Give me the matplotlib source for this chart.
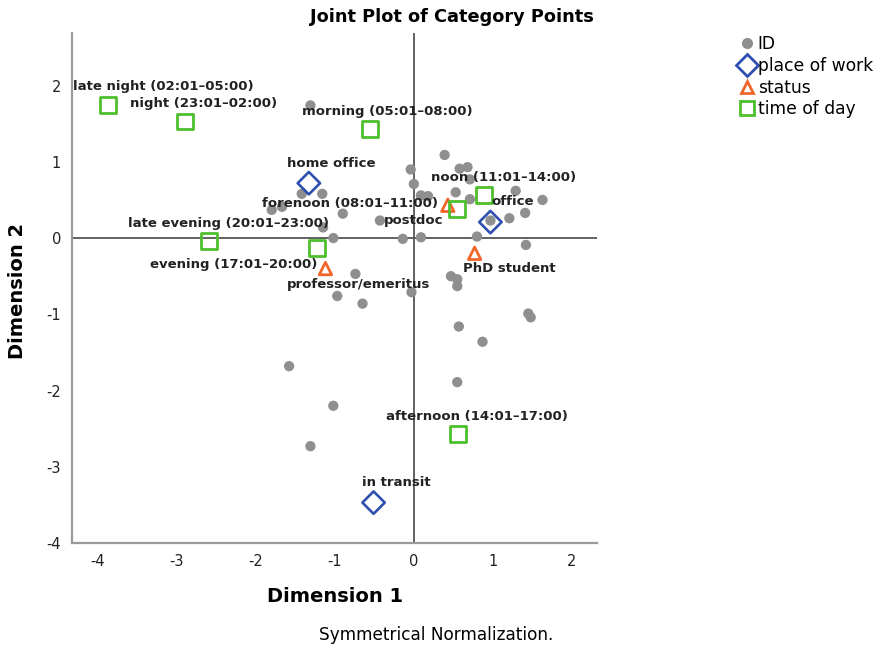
import matplotlib
matplotlib.use("Agg")
import matplotlib.pyplot as plt
from matplotlib.lines import Line2D

plt.rcParams["axes.unicode_minus"] = False

# ---- data ----
id_x = [-1.31, 0.39, -0.04, 0.58, 0.68, 0.71, 0.00, 0.53, 0.09, 1.29, 1.63, 1.21, 1.41,
        0.97, 0.80, 1.42, 0.09, -0.14, -0.43, 0.71, -1.42, -1.16, -1.80, -1.67, -0.90,
        -1.15, -1.02, -0.74, 0.47, 0.55, 0.55, -0.03, -0.97, -0.65, 1.45, 1.48, 0.57,
        0.87, -1.58, 0.55, -1.02, -1.31, 0.18]
id_y = [1.74, 1.09, 0.90, 0.91, 0.93, 0.77, 0.71, 0.60, 0.56, 0.62, 0.50, 0.26, 0.33,
        0.23, 0.02, -0.09, 0.01, -0.01, 0.23, 0.51, 0.58, 0.58, 0.37, 0.41, 0.32,
        0.14, 0.00, -0.47, -0.50, -0.54, -0.63, -0.71, -0.76, -0.86, -0.99, -1.04, -1.16,
        -1.36, -1.68, -1.89, -2.20, -2.73, 0.55]

work_labels = ["home office", "office", "in transit"]
work_x = [-1.33, 0.97, -0.51]
work_y = [0.72, 0.21, -3.47]

status_labels = ["postdoc", "PhD student", "professor/emeritus"]
status_x = [0.43, 0.77, -1.12]
status_y = [0.43, -0.20, -0.40]

time_labels = ["late night (02:01\u201305:00)", "night (23:01\u201302:00)",
               "morning (05:01\u201308:00)", "noon (11:01\u201314:00)",
               "forenoon (08:01\u201311:00)", "late evening (20:01\u201323:00)",
               "evening (17:01\u201320:00)", "afternoon (14:01\u201317:00)"]
time_x = [-3.87, -2.90, -0.56, 0.89, 0.55, -2.59, -1.23, 0.56]
time_y = [1.75, 1.53, 1.43, 0.57, 0.38, -0.04, -0.13, -2.57]

x_ticks = [-4, -3, -2, -1, 0, 1, 2]
y_ticks = [-4, -3, -2, -1, 0, 1, 2]

# label offsets in pixels (style)
work_off = [(22, 20), (22, 21), (23, 20)]
status_off = [(-34, -15), (35, -15), (33, -16)]
time_off = [(55, 18), (19, 18), (18, 18), (19, 17), (-107, 6), (19, 18), (-83, -17), (19, 17)]

C_ID = "#8f8f8f"
C_WORK = "#2f4fb0"
C_STATUS = "#f0652a"
C_TIME = "#4cbf2c"

fig = plt.figure(figsize=(8.85, 6.47), dpi=100)
ax = fig.add_axes([72 / 885, 1 - 543 / 647, (597 - 72) / 885, (543 - 33) / 647])

ax.axhline(0, color="#555555", lw=1.3, zorder=1)
ax.axvline(0, color="#555555", lw=1.3, zorder=1)

ax.scatter(id_x, id_y, s=55, color=C_ID, edgecolors="none", zorder=2)
ax.scatter(work_x, work_y, marker="D", s=130, facecolors="none", edgecolors=C_WORK,
           linewidths=1.9, zorder=4)
ax.scatter(status_x, status_y, marker="^", s=80, facecolors="none", edgecolors=C_STATUS,
           linewidths=2.0, zorder=4)
ax.scatter(time_x, time_y, marker="s", s=130, facecolors="none", edgecolors=C_TIME,
           linewidths=2.0, zorder=4)

def lab(labels, xs, ys, offs):
    for t, x, y, o in zip(labels, xs, ys, offs):
        ax.annotate(t, (x, y), xytext=o, textcoords="offset pixels", ha="center",
                    va="center", fontsize=9.5, fontweight="bold", color="#222222", zorder=5)

lab(work_labels, work_x, work_y, work_off)
lab(status_labels, status_x, status_y, status_off)
lab(time_labels, time_x, time_y, time_off)

ax.set_xlim(-4.33, 2.32)
ax.set_ylim(-4.0, 2.69)
ax.set_xticks(x_ticks)
ax.set_yticks(y_ticks)
ax.tick_params(length=0, labelsize=10.5, colors="#222222", pad=8)
for s in ["top", "right"]:
    ax.spines[s].set_visible(False)
for s in ["left", "bottom"]:
    ax.spines[s].set_color("#9a9a9a")
    ax.spines[s].set_linewidth(1.6)

fig.text(452 / 885, 1 - 17 / 647, "Joint Plot of Category Points", ha="center", va="center",
         fontsize=12.8, fontweight="bold")
fig.text(335 / 885, 1 - 597 / 647, "Dimension 1", ha="center", va="center",
         fontsize=14, fontweight="bold")
fig.text(18 / 885, 1 - 291 / 647, "Dimension 2", ha="center", va="center", rotation=90,
         fontsize=14, fontweight="bold")
fig.text(436 / 885, 1 - 635 / 647, "Symmetrical Normalization.", ha="center", va="center",
         fontsize=12.2)

handles = [
    Line2D([], [], marker="o", ls="none", color=C_ID, markersize=8, markeredgewidth=0),
    Line2D([], [], marker="D", ls="none", markerfacecolor="none", markeredgecolor=C_WORK,
           markersize=11, markeredgewidth=2.0),
    Line2D([], [], marker="^", ls="none", markerfacecolor="none", markeredgecolor=C_STATUS,
           markersize=8.5, markeredgewidth=2.0),
    Line2D([], [], marker="s", ls="none", markerfacecolor="none", markeredgecolor=C_TIME,
           markersize=10.5, markeredgewidth=2.0),
]
fig.legend(handles, ["ID", "place of work", "status", "time of day"], loc="upper left",
           bbox_to_anchor=(738 / 885, 1 - 35 / 647), frameon=False, fontsize=12.3,
           handlelength=1.0, handletextpad=0.15, borderpad=0, labelspacing=0.22,
           borderaxespad=0)

fig.savefig("out.png", dpi=100)
